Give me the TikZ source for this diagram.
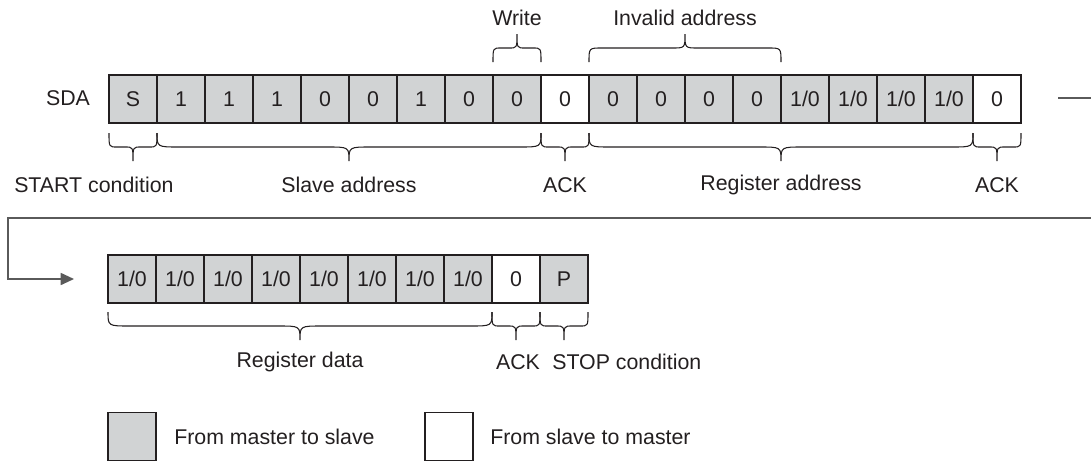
\documentclass[tikz,border=0pt]{standalone}
\usepackage{fontspec}
\setmainfont{Liberation Sans}
\usetikzlibrary{arrows.meta}
\definecolor{cellfill}{HTML}{D1D3D4}
\definecolor{ink}{HTML}{231F20}
\definecolor{linegray}{HTML}{5A5A5A}
\newcommand{\bitx}{1/0}
\newcommand{\cbrace}[5]{% x1 x2 y0 h r
  \draw[brc] ({#1},{#3}) .. controls ({#1},{#3+(#4)}) .. ({#1+#5},{#3+(#4)})
    -- ({(#1+#2)/2-#5},{#3+(#4)}) .. controls ({(#1+#2)/2},{#3+(#4)}) .. ({(#1+#2)/2},{#3+2*(#4)})
    .. controls ({(#1+#2)/2},{#3+(#4)}) .. ({(#1+#2)/2+#5},{#3+(#4)})
    -- ({#2-#5},{#3+(#4)}) .. controls ({#2},{#3+(#4)}) .. ({#2},{#3});}
\tikzset{
  cell/.style={draw=ink, line width=0.9pt, minimum width=36pt, minimum height=36pt,
    inner sep=0pt, font=\fontsize{16}{18}\selectfont, text=ink},
  mcell/.style={cell, fill=cellfill},
  scell/.style={cell, fill=white},
  lbl/.style={font=\fontsize{16}{18}\selectfont, text=ink, inner sep=0pt},
  brc/.style={draw=ink, line width=0.8pt},
  flow/.style={draw=linegray, line width=1.3pt},
}
\begin{document}
\begin{tikzpicture}[x=0.75pt, y=-0.75pt]
\useasboundingbox (0,0) rectangle (1091,461);
% row 1
\node[lbl] (sda) at (68,98) {SDA};
\foreach [count=\i from 0] \t/\s in {S/mcell,1/mcell,1/mcell,1/mcell,0/mcell,0/mcell,1/mcell,0/mcell,0/mcell,0/scell,0/mcell,0/mcell,0/mcell,0/mcell,\bitx/mcell,\bitx/mcell,\bitx/mcell,\bitx/mcell,0/scell}
  \node[\s] (a\i) at ({133+48*\i},99) {\t};
% top braces
\cbrace{493}{541}{62}{-14}{8}
\cbrace{589}{781}{62}{-14}{13}
\node[lbl] (write) at (517,18) {Write};
\node[lbl] (inval) at (685,18) {Invalid address};
% bottom braces row 1
\cbrace{109}{157}{133}{14}{8}
\cbrace{157}{541}{133}{14}{22}
\cbrace{541}{589}{133}{14}{8}
\cbrace{589}{973}{133}{14}{22}
\cbrace{973}{1021}{133}{14}{8}
\node[lbl, anchor=west] (start) at (14,185) {START condition};
\node[lbl] (slave) at (349,185) {Slave address};
\node[lbl] (ack1) at (565,185) {ACK};
\node[lbl] (regaddr) at (781,185) {Register address};
\node[lbl] (ack2) at (997,185) {ACK};
% continuation
\coordinate (stubA) at (1058,98);
\coordinate (stubB) at (1091,98);
\draw[flow] (stubA) -- (stubB);
\coordinate (retR) at (1091,218);
\coordinate (retL) at (8,218);
\coordinate (tip) at (74,279);
\draw[flow, -{Triangle[length=10pt,width=9pt]}] (retR) -- (retL) |- (tip);
% row 2
\foreach [count=\i from 0] \t/\s in {\bitx/mcell,\bitx/mcell,\bitx/mcell,\bitx/mcell,\bitx/mcell,\bitx/mcell,\bitx/mcell,\bitx/mcell,0/scell,P/mcell}
  \node[\s] (b\i) at ({132+48*\i},279) {\t};
\cbrace{108}{492}{312}{14}{22}
\cbrace{492}{540}{312}{14}{8}
\cbrace{540}{588}{312}{14}{8}
\node[lbl] (regdata) at (300,362) {Register data};
\node[lbl] (ack3) at (518,362) {ACK};
\node[lbl, anchor=west] (stop) at (552,362) {STOP condition};
% legend
\node[mcell] (lg1) at (132,436.5) {};
\node[lbl, anchor=west] (lg1t) at (174,436.5) {From master to slave};
\node[scell] (lg2) at (449,436.5) {};
\node[lbl, anchor=west] (lg2t) at (490,436.5) {From slave to master};
\end{tikzpicture}
\end{document}
